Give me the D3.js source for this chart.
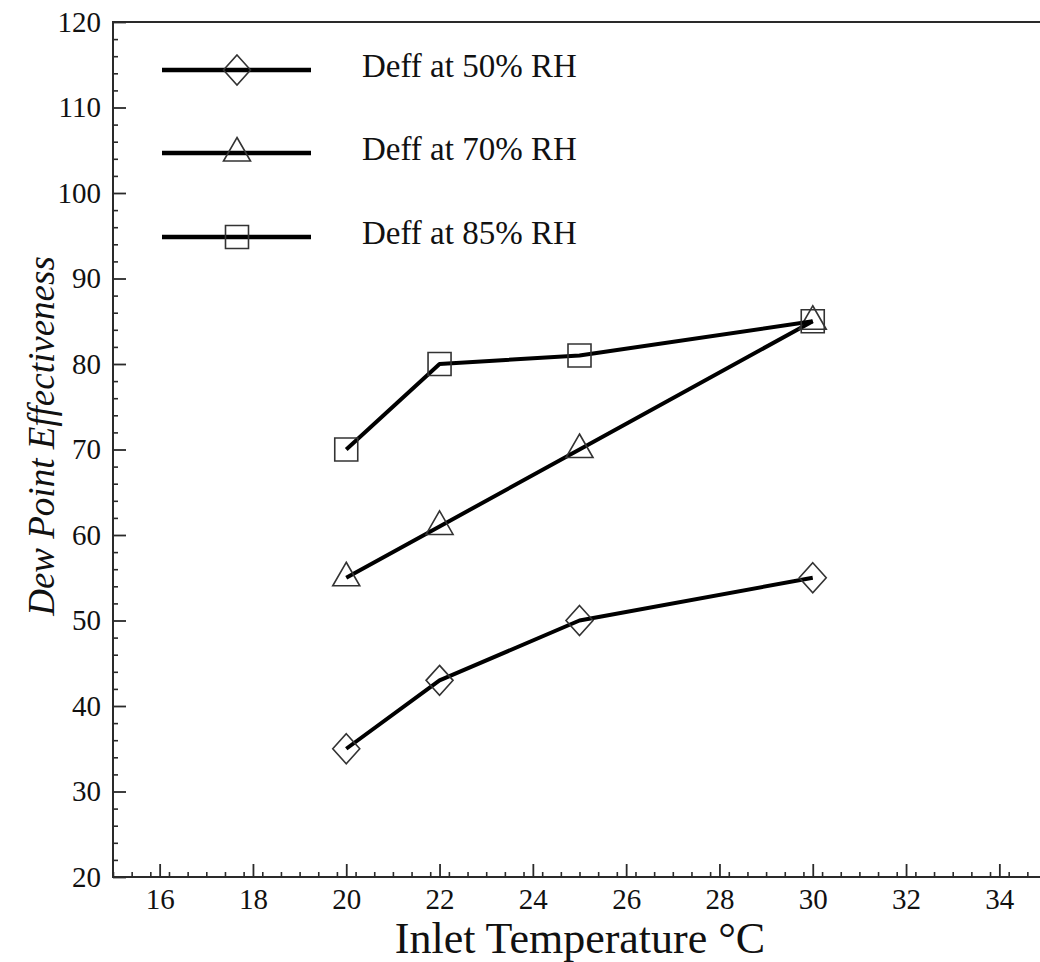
<!DOCTYPE html>
<html>
<head>
<meta charset="utf-8">
<script src="https://cdn.jsdelivr.net/npm/d3@7"></script>
<style>
  html, body { margin: 0; padding: 0; background: #fff; }
  svg { display: block; font-family: "Liberation Serif", "Times New Roman", serif; }
</style>
</head>
<body>
<svg id="chart" width="1040" height="962"></svg>
<script>
// ---- data ----
const temperatures = [20, 22, 25, 30];
const rh50 = [35, 43, 50, 55];
const rh70 = [55, 61, 70, 85];
const rh85 = [70, 80, 81, 85];
const seriesNames = ["Deff at 50% RH", "Deff at 70% RH", "Deff at 85% RH"];
const seriesMarkers = ["diamond", "triangle", "square"];
const xTicks = [16, 18, 20, 22, 24, 26, 28, 30, 32, 34];
const yTicks = [20, 30, 40, 50, 60, 70, 80, 90, 100, 110, 120];
const xTitle = "Inlet Temperature \u00B0C";
const yTitle = "Dew Point Effectiveness";

(function () {
const svg = d3.select("#chart");
const pLeft = 113, pRight = 1046, pTop = 22, pBottom = 877;

const x = d3.scaleLinear().domain([15, 35]).range([pLeft, pRight]);
const y = d3.scaleLinear().domain([20, 120]).range([pBottom, pTop]);

const axisColor = "#2a2a2a";

// frame
svg.append("rect")
  .attr("x", pLeft).attr("y", pTop)
  .attr("width", pRight - pLeft).attr("height", pBottom - pTop)
  .attr("fill", "none").attr("stroke", axisColor).attr("stroke-width", 2);

// minor ticks
const xMinor = d3.range(15, 35.001, 0.4).map(v => +v.toFixed(1)).filter(v => !xTicks.includes(v));
const yMinor = d3.range(20, 120.001, 2).filter(v => !yTicks.includes(v));

svg.append("g").attr("transform", `translate(0,${pBottom})`)
  .call(d3.axisBottom(x).tickValues(xMinor).tickSize(-5).tickFormat(""))
  .call(g => g.select(".domain").remove())
  .call(g => g.selectAll("line").attr("stroke", axisColor).attr("stroke-width", 1.6));

svg.append("g").attr("transform", `translate(${pLeft},0)`)
  .call(d3.axisLeft(y).tickValues(yMinor).tickSize(-5).tickFormat(""))
  .call(g => g.select(".domain").remove())
  .call(g => g.selectAll("line").attr("stroke", axisColor).attr("stroke-width", 1.6));

// major axes
svg.append("g").attr("transform", `translate(0,${pBottom})`)
  .call(d3.axisBottom(x).tickValues(xTicks).tickSize(-13).tickPadding(11).tickFormat(d3.format("d")))
  .call(g => g.select(".domain").remove())
  .call(g => g.selectAll("line").attr("stroke", axisColor).attr("stroke-width", 1.8))
  .call(g => g.selectAll("text").attr("font-size", 29).attr("fill", "#111")
    .attr("font-family", "Liberation Serif, Times New Roman, serif"));

svg.append("g").attr("transform", `translate(${pLeft},0)`)
  .call(d3.axisLeft(y).tickValues(yTicks).tickSize(-13).tickPadding(12).tickFormat(d3.format("d")))
  .call(g => g.select(".domain").remove())
  .call(g => g.selectAll("line").attr("stroke", axisColor).attr("stroke-width", 1.8))
  .call(g => g.selectAll("text").attr("font-size", 29).attr("fill", "#111")
    .attr("font-family", "Liberation Serif, Times New Roman, serif"));

// axis titles
svg.append("text")
  .attr("x", 580).attr("y", 953)
  .attr("text-anchor", "middle")
  .attr("font-size", 44).attr("fill", "#111")
  .text(xTitle);

svg.append("text")
  .attr("transform", "translate(54,436) rotate(-90)")
  .attr("text-anchor", "middle")
  .attr("font-size", 37).attr("font-style", "italic").attr("fill", "#111")
  .text(yTitle);

// marker shapes
function markerPath(type) {
  if (type === "diamond") return "M0,-15L13.5,0L0,15L-13.5,0Z";
  if (type === "triangle") return "M0,-15.5L13.5,8L-13.5,8Z";
  return "M-11.5,-11.5H11.5V11.5H-11.5Z";
}

const series = [rh50, rh70, rh85];
const line = d3.line().x((d, i) => x(temperatures[i])).y(d => y(d));

series.forEach((vals, s) => {
  svg.append("path")
    .attr("d", line(vals))
    .attr("fill", "none").attr("stroke", "#000")
    .attr("stroke-width", 4).attr("stroke-linejoin", "round");
  svg.append("g").selectAll("path")
    .data(vals).join("path")
    .attr("transform", (d, i) => `translate(${x(temperatures[i])},${y(d)})`)
    .attr("d", markerPath(seriesMarkers[s]))
    .attr("fill", "none").attr("stroke", "#333").attr("stroke-width", 1.6);
});

// legend
const legendY = [70, 153, 237];
seriesNames.forEach((name, s) => {
  const g = svg.append("g").attr("transform", `translate(0,${legendY[s]})`);
  g.append("line").attr("x1", 162).attr("x2", 311).attr("y1", 0).attr("y2", 0)
    .attr("stroke", "#000").attr("stroke-width", 4.5);
  g.append("path").attr("transform", "translate(237,0)")
    .attr("d", markerPath(seriesMarkers[s]))
    .attr("fill", "none").attr("stroke", "#333").attr("stroke-width", 1.6);
  g.append("text").attr("x", 362).attr("y", 7)
    .attr("font-size", 33).attr("fill", "#111")
    .text(name);
});
})();
</script>
</body>
</html>
